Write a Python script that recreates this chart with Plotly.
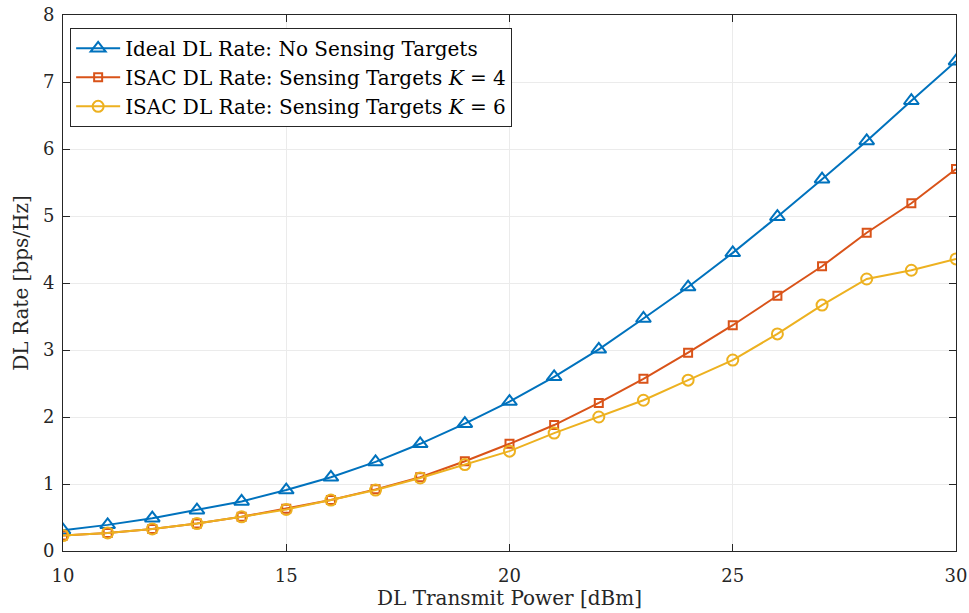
import plotly.graph_objects as go

power_dbm = [10, 11, 12, 13, 14, 15, 16, 17, 18, 19, 20, 21, 22, 23, 24, 25, 26, 27, 28, 29, 30]
ideal_rate = [0.31, 0.39, 0.49, 0.61, 0.74, 0.91, 1.10, 1.33, 1.60, 1.90, 2.23, 2.60, 3.01, 3.47, 3.94, 4.45, 4.99, 5.55, 6.12, 6.72, 7.31]
isac_k4 = [0.23, 0.27, 0.33, 0.41, 0.51, 0.63, 0.76, 0.92, 1.10, 1.34, 1.60, 1.88, 2.21, 2.57, 2.96, 3.37, 3.81, 4.25, 4.75, 5.19, 5.70]
isac_k6 = [0.23, 0.27, 0.33, 0.41, 0.51, 0.62, 0.76, 0.91, 1.09, 1.29, 1.49, 1.76, 2.00, 2.25, 2.55, 2.85, 3.24, 3.67, 4.06, 4.19, 4.36]

x_ticks = [10, 15, 20, 25, 30]
y_ticks = [0, 1, 2, 3, 4, 5, 6, 7, 8]

FONT = "DejaVu Serif, Liberation Serif, serif"

fig = go.Figure()
fig.add_trace(go.Scatter(
    x=power_dbm, y=ideal_rate, mode="lines+markers",
    name="Ideal DL Rate: No Sensing Targets",
    line=dict(color="#0072BD", width=2),
    marker=dict(symbol="triangle-up-open", size=13, color="#0072BD", line=dict(width=2))))
fig.add_trace(go.Scatter(
    x=power_dbm, y=isac_k4, mode="lines+markers",
    name="ISAC DL Rate: Sensing Targets <i>K</i> = 4",
    line=dict(color="#D95319", width=2),
    marker=dict(symbol="square-open", size=8, color="#D95319", line=dict(width=2))))
fig.add_trace(go.Scatter(
    x=power_dbm, y=isac_k6, mode="lines+markers",
    name="ISAC DL Rate: Sensing Targets <i>K</i> = 6",
    line=dict(color="#EDB120", width=2),
    marker=dict(symbol="circle-open", size=11, color="#EDB120", line=dict(width=2))))

axis_common = dict(
    showline=True, linecolor="#262626", linewidth=1, mirror="ticks",
    ticks="inside", ticklen=7, tickcolor="#262626",
    showgrid=True, gridcolor="#EBEBEB", gridwidth=1,
    zeroline=False, automargin=False,
    tickfont=dict(family=FONT, size=18, color="#262626"),
)

fig.update_xaxes(range=[10, 30], tickvals=x_ticks, ticklabelstandoff=8,
                 title=dict(text="DL Transmit Power [dBm]", font=dict(family=FONT, size=20, color="#262626"), standoff=4),
                 **axis_common)
fig.update_yaxes(range=[0, 8], tickvals=y_ticks, ticklabelstandoff=4,
                 title=dict(text="DL Rate [bps/Hz]", font=dict(family=FONT, size=20, color="#262626"), standoff=8),
                 **axis_common)

fig.update_layout(
    width=969, height=613,
    margin=dict(l=63, r=13, t=15, b=62),
    plot_bgcolor="white", paper_bgcolor="white",
    font=dict(family=FONT, size=18, color="#000000"),
    legend=dict(x=0.008, y=0.976, xanchor="left", yanchor="top",
                bgcolor="white", bordercolor="#262626", borderwidth=1,
                font=dict(family=FONT, size=20, color="#000000"),
                itemwidth=44),
    showlegend=True,
)

fig.write_html("out.html")
